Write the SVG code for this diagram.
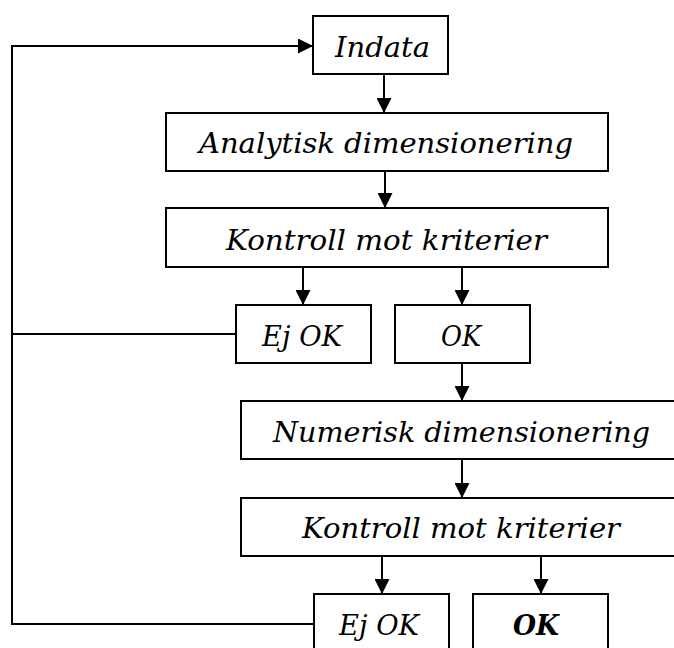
<svg xmlns="http://www.w3.org/2000/svg" width="674" height="648" viewBox="0 0 674 648">
  <style>
    .box { fill: #ffffff; stroke: #000000; stroke-width: 2; }
    .lbl { font-family: "DejaVu Serif", "Liberation Serif", serif; font-style: italic; font-size: 28px; fill: #000000; text-anchor: middle; }
    .bold { font-weight: bold; }
    .wire { fill: none; stroke: #000000; stroke-width: 2; }
  </style>
  <defs>
    <marker id="arrow" markerUnits="userSpaceOnUse" markerWidth="15" markerHeight="15" refX="15" refY="7.5" orient="auto">
      <path d="M0,0 L15,7.5 L0,15 z" fill="#000000"/>
    </marker>
  </defs>
  <rect width="674" height="648" fill="#ffffff"/>

  <g id="connectors">
    <line class="wire" x1="384" y1="74" x2="384" y2="113" marker-end="url(#arrow)"/>
    <line class="wire" x1="385" y1="171" x2="385" y2="208" marker-end="url(#arrow)"/>
    <line class="wire" x1="303" y1="267" x2="303" y2="305" marker-end="url(#arrow)"/>
    <line class="wire" x1="462" y1="267" x2="462" y2="305" marker-end="url(#arrow)"/>
    <line class="wire" x1="462" y1="363" x2="462" y2="401" marker-end="url(#arrow)"/>
    <line class="wire" x1="462" y1="459" x2="462" y2="498" marker-end="url(#arrow)"/>
    <line class="wire" x1="382" y1="556" x2="382" y2="594" marker-end="url(#arrow)"/>
    <line class="wire" x1="541" y1="556" x2="541" y2="594" marker-end="url(#arrow)"/>
    <!-- feedback loop back to the input -->
    <line class="wire" x1="236" y1="334" x2="12" y2="334"/>
    <polyline class="wire" points="314,624 12,624 12,46 313,46" marker-end="url(#arrow)"/>
  </g>

  <g id="indata">
    <rect class="box" x="313" y="16" width="135" height="58"/>
    <text class="lbl" x="382.5" y="57" textLength="95" lengthAdjust="spacingAndGlyphs">Indata</text>
  </g>
  <g id="analytisk">
    <rect class="box" x="166" y="113" width="442" height="58"/>
    <text class="lbl" x="386" y="153" textLength="374" lengthAdjust="spacingAndGlyphs">Analytisk dimensionering</text>
  </g>
  <g id="kontroll1">
    <rect class="box" x="166" y="208" width="442" height="59"/>
    <text class="lbl" x="386.5" y="250" textLength="321" lengthAdjust="spacingAndGlyphs">Kontroll mot kriterier</text>
  </g>
  <g id="ejok1">
    <rect class="box" x="236" y="305" width="135" height="58"/>
    <text class="lbl" x="302" y="346" textLength="80" lengthAdjust="spacingAndGlyphs">Ej OK</text>
  </g>
  <g id="ok1">
    <rect class="box" x="395" y="305" width="135" height="58"/>
    <text class="lbl" x="461" y="346" textLength="40" lengthAdjust="spacingAndGlyphs">OK</text>
  </g>
  <g id="numerisk">
    <rect class="box" x="241" y="401" width="440" height="58"/>
    <text class="lbl" x="461.5" y="442" textLength="377" lengthAdjust="spacingAndGlyphs">Numerisk dimensionering</text>
  </g>
  <g id="kontroll2">
    <rect class="box" x="241" y="498" width="440" height="58"/>
    <text class="lbl" x="461" y="538" textLength="318" lengthAdjust="spacingAndGlyphs">Kontroll mot kriterier</text>
  </g>
  <g id="ejok2">
    <rect class="box" x="314" y="594" width="135" height="70"/>
    <text class="lbl" x="379" y="635" textLength="80" lengthAdjust="spacingAndGlyphs">Ej OK</text>
  </g>
  <g id="ok2">
    <rect class="box" x="473" y="594" width="135" height="70"/>
    <text class="lbl bold" x="536" y="635" textLength="46" lengthAdjust="spacingAndGlyphs">OK</text>
  </g>
</svg>
